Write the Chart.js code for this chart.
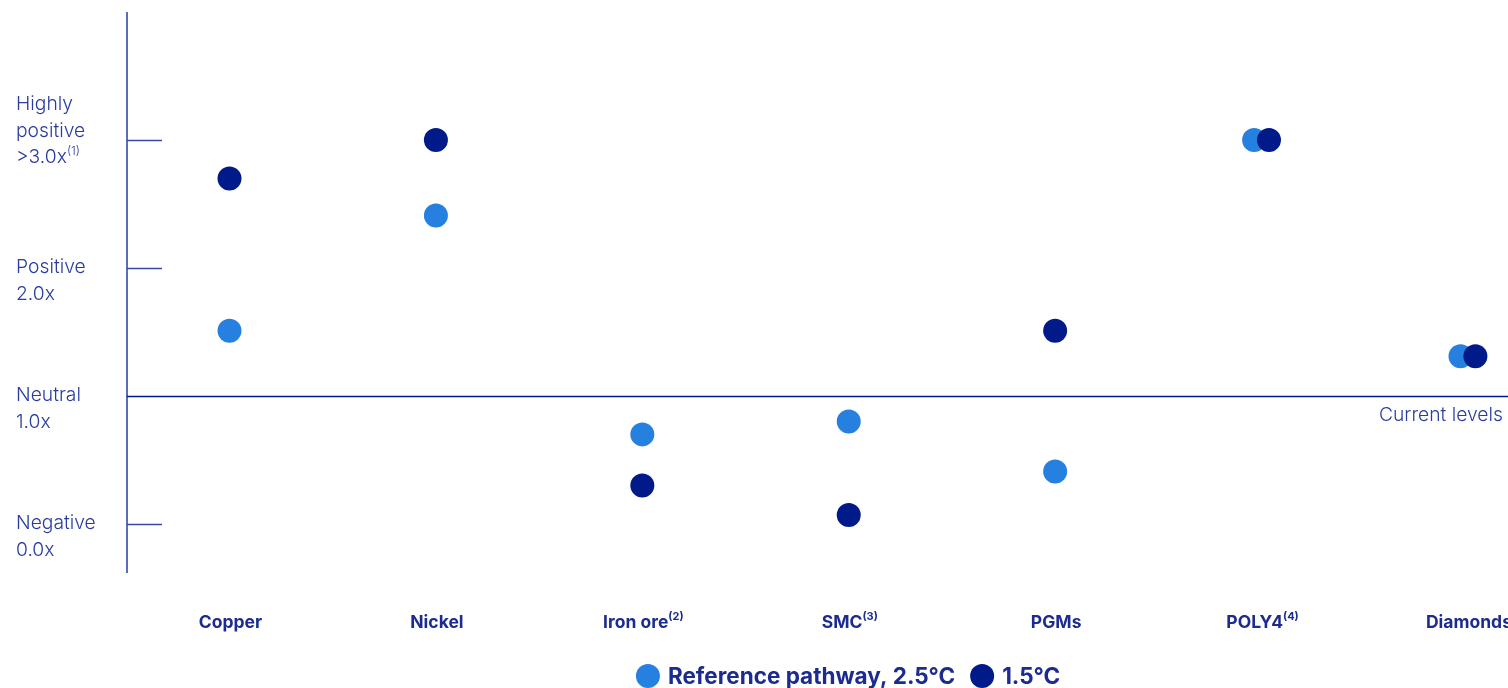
<!DOCTYPE html>
<html>
<head>
<meta charset="utf-8">
<script src="https://cdn.jsdelivr.net/npm/chart.js@4.4.1/dist/chart.umd.min.js"></script>
<style>
  html, body { margin: 0; padding: 0; background: #ffffff; }
  #wrap { position: relative; width: 1508px; height: 688px; }
</style>
</head>
<body>
<div id="wrap"><canvas id="chart" width="1508" height="688"></canvas></div>
<script>
// Commodities and their superscript notes
const categories = ['Copper', 'Nickel', 'Iron ore', 'SMC', 'PGMs', 'POLY4', 'Diamonds'];
const categoryNotes = ['', '', '(2)', '(3)', '', '(4)', ''];

// Demand multiple versus current levels for each pathway
const referencePathway = [1.51, 2.41, 0.70, 0.80, 0.41, 3.00, 1.31];
const pathway15 = [2.70, 3.00, 0.30, 0.07, 1.51, 3.00, 1.31];

// Y-axis tick values and their labels
const tickValues = [3, 2, 1, 0];
const tickLabels = [
  ['Highly', 'positive', '>3.0x'],
  ['Positive', '2.0x'],
  ['Neutral', '1.0x'],
  ['Negative', '0.0x']
];
const tickNotes = ['(1)', '', '', ''];

const seriesNames = ['Reference pathway, 2.5°C', '1.5°C'];

const LIGHT = '#2680e0';
const DARK = '#001a8a';
const INK = '#1b2b8f';
const AXIS = '#3548a8';
const FONT = 'Inter, "Noto Sans", sans-serif';

// Coinciding points are nudged apart so both stay visible
const NUDGE = 0.036;
function toPoints(values, other, side) {
  return values.map((v, i) => ({ x: i + (v === other[i] ? side * NUDGE : 0), y: v }));
}

function textWithNote(ctx, text, note, x, y, size, weight, align) {
  ctx.font = `${weight} ${size}px ${FONT}`;
  const w = ctx.measureText(text).width;
  ctx.font = `${weight} ${Math.round(size * 0.6)}px ${FONT}`;
  const nw = note ? ctx.measureText(note).width : 0;
  let start = x;
  if (align === 'center') start = x - (w + nw) / 2;
  ctx.textAlign = 'left';
  ctx.textBaseline = 'middle';
  ctx.font = `${weight} ${size}px ${FONT}`;
  ctx.fillText(text, start, y);
  if (note) {
    ctx.font = `${weight} ${Math.round(size * 0.6)}px ${FONT}`;
    ctx.fillText(note, start + w, y - size * 0.33);
  }
}

const decorations = {
  id: 'decorations',
  beforeDatasetsDraw(chart) {
    const { ctx, chartArea: a, scales: { y } } = chart;
    ctx.save();
    // vertical axis
    ctx.strokeStyle = AXIS;
    ctx.lineWidth = 1.6;
    ctx.beginPath();
    ctx.moveTo(a.left, a.top);
    ctx.lineTo(a.left, a.bottom);
    ctx.stroke();
    // tick marks and the current-levels baseline
    tickValues.forEach(v => {
      const py = Math.round(y.getPixelForValue(v)) + 0.5;
      ctx.beginPath();
      ctx.strokeStyle = v === 1 ? DARK : AXIS;
      ctx.lineWidth = 1.3;
      ctx.moveTo(a.left, py);
      ctx.lineTo(v === 1 ? a.right : a.left + 35, py);
      ctx.stroke();
    });
    ctx.restore();
  },
  afterDraw(chart) {
    const { ctx, scales: { x, y } } = chart;
    ctx.save();
    ctx.fillStyle = '#2a3c9e';
    // y labels
    tickValues.forEach((v, k) => {
      const lines = tickLabels[k];
      const py = y.getPixelForValue(v);
      const lh = 26.5;
      const first = lines.length === 3 ? py - 35.5 : py - 0.5;
      lines.forEach((line, j) => {
        const note = j === lines.length - 1 ? tickNotes[k] : '';
        textWithNote(ctx, line, note, 16, first + j * lh, 19.3, 300, 'left');
      });
    });
    // current levels
    ctx.font = `300 19.3px ${FONT}`;
    ctx.textAlign = 'right';
    ctx.textBaseline = 'middle';
    ctx.fillText('Current levels', 1503, y.getPixelForValue(1) + 19);
    // category labels
    ctx.fillStyle = INK;
    categories.forEach((c, i) => {
      textWithNote(ctx, c, categoryNotes[i], x.getPixelForValue(i) + 1, 622.5, 17.5, 700, 'center');
    });
    // legend
    const ds = chart.data.datasets;
    const ly = 676;
    ctx.font = `700 22.5px ${FONT}`;
    const parts = ds.map(d => ctx.measureText(d.label).width);
    const r = 12;
    const gap = 8, between = 15;
    const total = parts.reduce((s, w) => s + 2 * r + gap + w, 0) + between * (parts.length - 1);
    let cx = 848 - total / 2;
    ds.forEach((d, k) => {
      ctx.beginPath();
      ctx.fillStyle = d.backgroundColor;
      ctx.arc(cx + r, ly, r, 0, Math.PI * 2);
      ctx.fill();
      ctx.fillStyle = INK;
      ctx.textAlign = 'left';
      ctx.textBaseline = 'middle';
      ctx.fillText(d.label, cx + 2 * r + gap, ly + 1);
      cx += 2 * r + gap + parts[k] + between;
    });
    ctx.restore();
  }
};

new Chart(document.getElementById('chart'), {
  type: 'scatter',
  data: {
    datasets: [
      {
        label: seriesNames[0],
        data: toPoints(referencePathway, pathway15, -1),
        backgroundColor: LIGHT,
        borderWidth: 0,
        pointRadius: 12,
        pointHoverRadius: 12,
        order: 2
      },
      {
        label: seriesNames[1],
        data: toPoints(pathway15, referencePathway, 1),
        backgroundColor: DARK,
        borderWidth: 0,
        pointRadius: 12,
        pointHoverRadius: 12,
        order: 1
      }
    ]
  },
  options: {
    responsive: false,
    animation: false,
    layout: { autoPadding: false, padding: { left: 127, right: 0, top: 12, bottom: 115 } },
    plugins: { legend: { display: false }, tooltip: { enabled: false } },
    scales: {
      x: { type: 'linear', min: -0.4966, max: 6.194, display: false },
      y: { type: 'linear', min: -0.383, max: 4.0, display: false }
    }
  },
  plugins: [decorations]
});
</script>
</body>
</html>
